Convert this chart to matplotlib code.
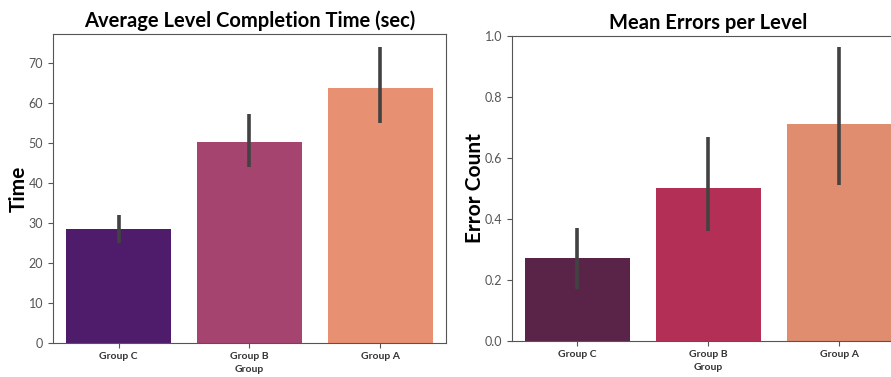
import matplotlib.pyplot as plt
import numpy as np

plt.rcParams['font.family'] = ['Lato', 'DejaVu Sans']

groups = ['Group C', 'Group B', 'Group A']

time_mean = [28.5, 50.3, 63.8]
time_lo = [25.0, 44.0, 55.0]
time_hi = [32.0, 57.3, 74.0]

err_mean = [0.272, 0.50, 0.71]
err_lo = [0.17, 0.36, 0.51]
err_hi = [0.37, 0.67, 0.965]

time_colors = ['#4f1c6c', '#a5446f', '#e89072']
err_colors = ['#5a2449', '#b42f56', '#e08c6f']

fig = plt.figure(figsize=(8.91, 3.77), dpi=100)
ax1 = fig.add_axes([0.0595, 0.090, 0.441, 0.820])
ax2 = fig.add_axes([0.5746, 0.0955, 0.441, 0.809])


def draw(ax, mean, lo, hi, colors, title, ylabel, ylim):
    x = np.arange(len(groups))
    ax.bar(x, mean, width=0.8, color=colors)
    # error bars drawn as plain vertical lines, like seaborn
    for xi, l, h in zip(x, lo, hi):
        ax.plot([xi, xi], [l, h], color='#424242', lw=2.6, solid_capstyle='butt')
    ax.set_xlim(-0.5, 2.5)
    ax.set_ylim(*ylim)
    ax.set_xticks(x)
    ax.set_xticklabels(groups, fontsize=7.5, fontweight='bold', color='#333333')
    ax.tick_params(axis='y', labelsize=9, colors='#555555', labelcolor='#555555')
    ax.tick_params(axis='x', colors='#555555', labelcolor='#333333', pad=3)
    ax.set_xlabel('Group', fontsize=7.5, fontweight='bold', color='#333333', labelpad=3)
    ax.set_ylabel(ylabel, fontsize=15, fontweight='bold', labelpad=0)
    ax.set_title(title, fontsize=14.5, fontweight='bold', pad=5)
    for s in ax.spines.values():
        s.set_color('#555555')


draw(ax1, time_mean, time_lo, time_hi, time_colors,
     'Average Level Completion Time (sec)', 'Time', (0, 77.3))
ax1.set_yticks(np.arange(0, 80, 10))
draw(ax2, err_mean, err_lo, err_hi, err_colors,
     'Mean Errors per Level', 'Error Count', (0, 1.0))
ax2.set_yticks(np.arange(0, 1.01, 0.2))

fig.savefig('out.png', dpi=100)
